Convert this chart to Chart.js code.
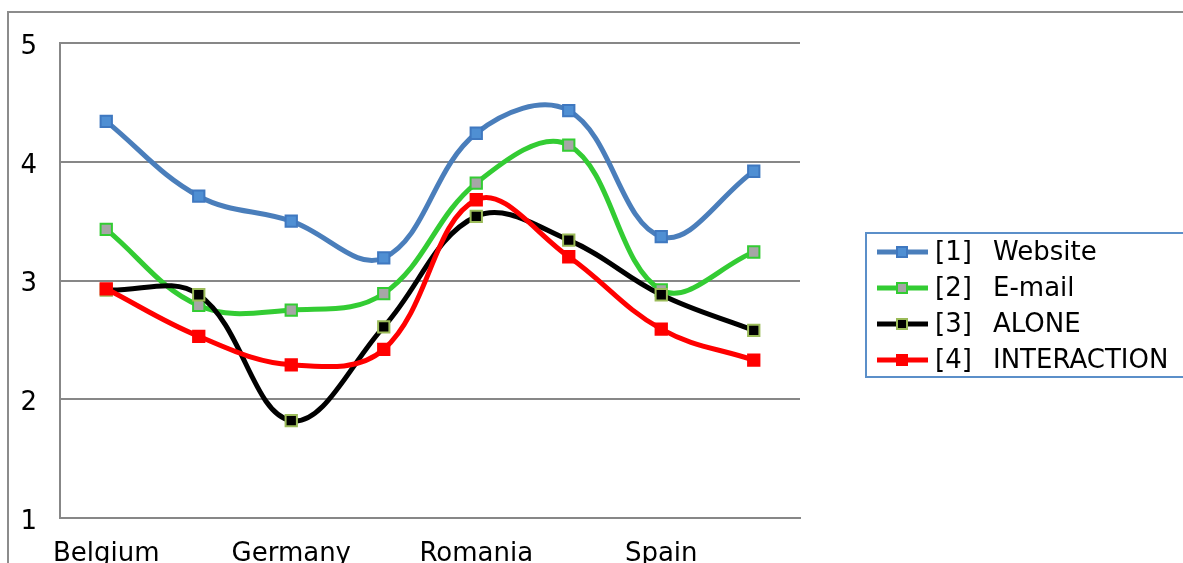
<!DOCTYPE html>
<html>
<head>
<meta charset="utf-8">
<script src="https://cdn.jsdelivr.net/npm/chart.js@4"></script>
<style>
  html, body { margin: 0; padding: 0; background: #fff; overflow: hidden; }
  #wrap { position: relative; width: 1183px; height: 563px; }
</style>
</head>
<body>
<div id="wrap"><canvas id="chart" width="1183" height="563"></canvas></div>
<script>
// Country groups along the horizontal axis (every other slot carries a label)
const categories = ['Belgium', '', 'Germany', '', 'Romania', '', 'Spain', ''];

// Mean scores per series
const website     = [4.34, 3.71, 3.50, 3.19, 4.24, 4.43, 3.37, 3.92];
const email       = [3.43, 2.79, 2.75, 2.89, 3.82, 4.14, 2.92, 3.24];
const alone       = [2.92, 2.88, 1.82, 2.61, 3.54, 3.34, 2.88, 2.58];
const interaction = [2.93, 2.53, 2.29, 2.42, 3.68, 3.20, 2.59, 2.33];

const seriesLabels = ['[1]  Website', '[2]  E-mail', '[3]  ALONE', '[4]  INTERACTION'];
const yTicks = [1, 2, 3, 4, 5];

const FONT = 'DejaVu Sans, Verdana, sans-serif';
const GRID = '#878787';

// Later series are painted over earlier ones
function series(label, data, line, fill, border, order) {
  return {
    label, data, order,
    borderColor: line,
    borderWidth: 5,
    pointStyle: 'rect',
    pointRadius: 8,
    pointHoverRadius: 8,
    pointBackgroundColor: fill,
    pointBorderColor: border,
    pointBorderWidth: 2,
    tension: 0.38,
    fill: false
  };
}

// Outer frame of the chart area
const framePlugin = {
  id: 'frame',
  beforeDraw(chart) {
    const ctx = chart.ctx;
    ctx.save();
    ctx.fillStyle = '#fff';
    ctx.fillRect(0, 0, chart.width, chart.height);
    ctx.strokeStyle = '#8c8c8c';
    ctx.lineWidth = 2;
    ctx.strokeRect(8, 12, 2000, 2000);
    ctx.restore();
  }
};

// Boxed legend with line + marker samples, drawn from the datasets
const legendPlugin = {
  id: 'boxLegend',
  afterDraw(chart) {
    const ctx = chart.ctx;
    const x0 = 866, y0 = 233, rowH = 36;
    ctx.save();
    ctx.strokeStyle = '#5b8fc9';
    ctx.lineWidth = 2;
    ctx.strokeRect(x0, y0, 400, 144);
    ctx.font = '26px ' + FONT;
    ctx.textBaseline = 'middle';
    chart.data.datasets.forEach((ds, i) => {
      const cy = y0 + 19 + i * rowH;
      ctx.strokeStyle = ds.borderColor;
      ctx.lineWidth = 5;
      ctx.beginPath();
      ctx.moveTo(877, cy);
      ctx.lineTo(928, cy);
      ctx.stroke();
      ctx.fillStyle = ds.pointBackgroundColor;
      ctx.fillRect(897, cy - 5, 10, 10);
      ctx.strokeStyle = ds.pointBorderColor;
      ctx.lineWidth = 2;
      ctx.strokeRect(897, cy - 5, 10, 10);
      const parts = ds.label.split(/\s+/);
      ctx.fillStyle = '#000';
      ctx.fillText(parts[0], 935, cy + 1);
      ctx.fillText(parts.slice(1).join(' '), 993, cy + 1);
    });
    ctx.restore();
  }
};

new Chart(document.getElementById('chart'), {
  type: 'line',
  data: {
    labels: categories,
    datasets: [
      series(seriesLabels[0], website, '#4a7ebb', '#4f8fd3', '#3f78c0', 4),
      series(seriesLabels[1], email, '#33cc33', '#a6a6a6', '#33cc33', 3),
      series(seriesLabels[2], alone, '#000000', '#000000', '#9bbb59', 2),
      series(seriesLabels[3], interaction, '#ff0000', '#ff0000', '#ff0000', 1)
    ]
  },
  options: {
    responsive: false,
    animation: false,
    layout: { padding: { left: 0, right: 383, top: 43, bottom: 0 } },
    plugins: {
      legend: { display: false },
      tooltip: { enabled: false }
    },
    scales: {
      x: {
        offset: true,
        grid: { display: false, drawTicks: false },
        border: { display: true, color: GRID, width: 2 },
        ticks: {
          autoSkip: false,
          maxRotation: 0,
          padding: 21,
          color: '#000',
          font: { family: FONT, size: 26 }
        },
        afterFit(scale) { scale.height = 45; }
      },
      y: {
        min: 1,
        max: 5,
        afterBuildTicks(scale) { scale.ticks = yTicks.map(v => ({ value: v })); },
        grid: { color: GRID, lineWidth: 2, drawTicks: false },
        border: { display: true, color: GRID, width: 2 },
        ticks: {
          padding: 23,
          labelOffset: 4,
          color: '#000',
          font: { family: FONT, size: 26 }
        },
        afterFit(scale) { scale.width = 60; }
      }
    }
  },
  plugins: [framePlugin, legendPlugin]
});
</script>
</body>
</html>
